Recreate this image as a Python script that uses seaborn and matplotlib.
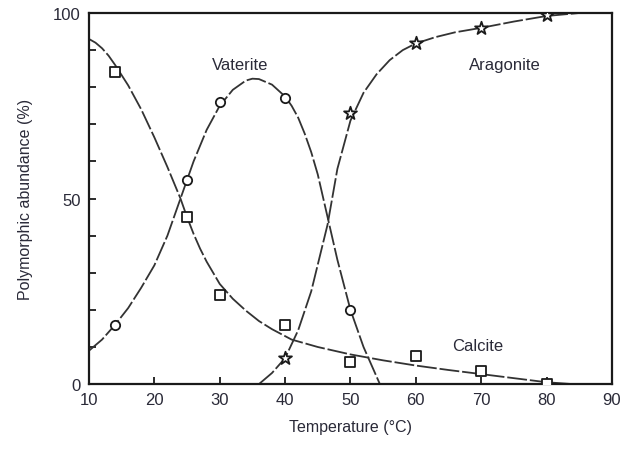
import pandas as pd
import seaborn as sns
import matplotlib
matplotlib.use("Agg")
import matplotlib.pyplot as plt
from matplotlib.ticker import MultipleLocator


LINE_COLOR = "#333333"
TEXT_COLOR = "#2a2a38"

# measured points
calcite_t = [14, 25, 30, 40, 50, 60, 70, 80]
calcite_y = [84, 45, 24, 16, 6, 7.5, 3.5, 0]
vaterite_t = [14, 25, 30, 40, 50]
vaterite_y = [16, 55, 76, 77, 20]
aragonite_t = [40, 50, 60, 70, 80]
aragonite_y = [7, 73, 92, 96, 99.5]

# fitted curves
calcite_fit_t = [10, 11, 12, 13, 14, 16, 18, 20, 22, 24, 25, 26, 27, 28, 30, 32, 34, 36, 38, 41,
                 45, 50, 55, 60, 65, 70, 75, 80, 84]
calcite_fit_y = [93, 92, 90.5, 88.5, 86, 80.5, 74, 66.5, 58.5, 50, 45, 40.5, 36.5, 33, 27, 23, 19.8,
                 17, 14.8, 12, 10, 8, 6.4, 5, 3.8, 2.7, 1.6, 0.5, 0]
vaterite_fit_t = [10, 12, 14, 16, 18, 20, 22, 24, 26, 28, 30, 32, 34, 35, 36, 38, 40, 41, 42, 43,
                  44, 45, 46.5, 48, 50, 52, 54.5]
vaterite_fit_y = [9, 12, 16, 20.5, 26, 32, 40, 50, 60, 68.5, 75, 79.3, 81.8, 82.3, 82.2, 80.7, 77.5,
                  75, 71.8, 67.5, 62.5, 56.5, 45, 33.5, 20, 10, 0]
aragonite_fit_t = [36, 38, 40, 42, 44, 46.5, 48, 50, 52, 54, 56, 58, 60, 63, 66, 70, 75, 80, 85]
aragonite_fit_y = [0, 3, 7, 14.5, 25, 43, 58, 71, 78.5, 83.5, 87.3, 90, 91.8, 93.5, 94.8, 96,
                   97.7, 99.2, 100]

sns.set_style("ticks")
plt.rcParams["font.family"] = ["Liberation Sans", "DejaVu Sans"]
matplotlib.rc("font", size=12)

fig = plt.figure(figsize=(6.2, 4.52), dpi=100)
ax = fig.add_axes([0.1435, 0.148, 0.8435, 0.821])

curves = [
    (calcite_fit_t, calcite_fit_y),
    (vaterite_fit_t, vaterite_fit_y),
    (aragonite_fit_t, aragonite_fit_y),
]
for t, y in curves:
    df = pd.DataFrame({"t": t, "y": y})
    sns.lineplot(data=df, x="t", y="y", ax=ax, color=LINE_COLOR, linewidth=1.3,
                 dashes=False, sort=False, linestyle=(0, (11, 1.6)))

points = [
    (calcite_t, calcite_y, "s", 60),
    (vaterite_t, vaterite_y, "o", 45),
    (aragonite_t, aragonite_y, "*", 95),
]
for t, y, m, s in points:
    df = pd.DataFrame({"t": t, "y": y})
    sns.scatterplot(data=df, x="t", y="y", ax=ax, marker=m, s=s,
                    facecolor="white", edgecolor="#1a1a1a", linewidth=1.3, zorder=3)

ax.set_xlim(10, 90)
ax.set_ylim(0, 100)
ax.xaxis.set_major_locator(MultipleLocator(10))
ax.yaxis.set_major_locator(MultipleLocator(50))
ax.yaxis.set_minor_locator(MultipleLocator(10))
ax.tick_params(direction="in", length=5, width=1.3, colors="#1a1a1a",
               labelcolor=TEXT_COLOR, labelsize=12, pad=6)
ax.tick_params(which="minor", direction="in", length=5, width=1.3, colors="#1a1a1a")
for sp in ax.spines.values():
    sp.set_visible(True)
    sp.set_linewidth(1.6)
    sp.set_color("#1a1a1a")

ax.set_xlabel("Temperature (°C)", color=TEXT_COLOR, fontsize=11.5, labelpad=8)
ax.set_ylabel("Polymorphic abundance (%)", color=TEXT_COLOR, fontsize=11.5, labelpad=14)

ax.text(33.1, 86, "Vaterite", ha="center", va="center", color=TEXT_COLOR, fontsize=12)
ax.text(73.6, 86, "Aragonite", ha="center", va="center", color=TEXT_COLOR, fontsize=12)
ax.text(69.5, 10.5, "Calcite", ha="center", va="center", color=TEXT_COLOR, fontsize=12)

plt.savefig("out.png", dpi=100)
